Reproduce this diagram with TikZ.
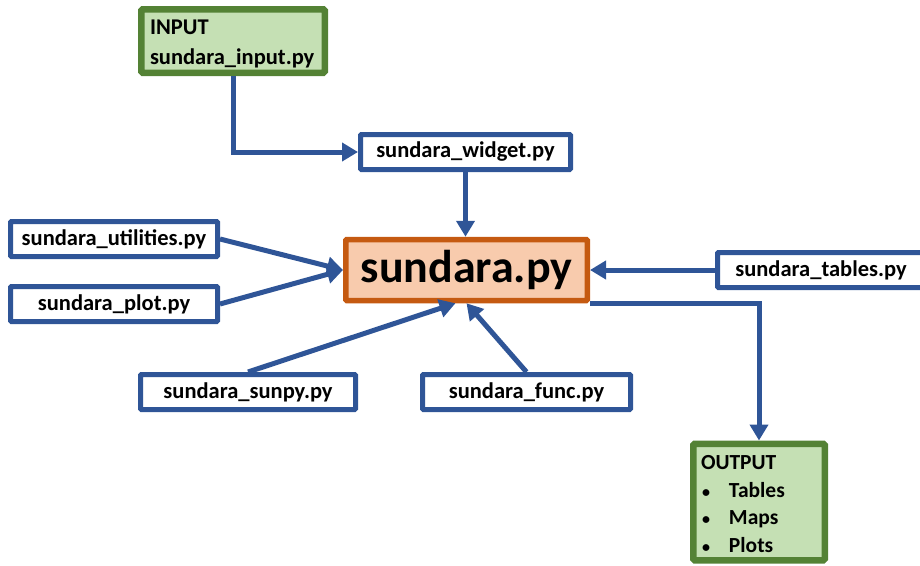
\documentclass[tikz,border=0pt]{standalone}
\usepackage{fontspec}
\setmainfont{Carlito}
\usetikzlibrary{arrows.meta,positioning}
\definecolor{linkblue}{HTML}{2F5597}
\definecolor{iofill}{HTML}{C5E0B4}
\definecolor{ioedge}{HTML}{548235}
\definecolor{mainfill}{HTML}{F8CBAD}
\definecolor{mainedge}{HTML}{C55A11}
\newcommand{\outbullet}{\hspace*{1pt}{\fontsize{16}{16}\selectfont\textbullet}\hspace{19pt}}

\begin{document}
\begin{tikzpicture}[
      x=1pt, y=-1pt, % 1 unidade = 1 pixel da figura
      modbox/.style={rectangle, draw=linkblue, fill=white, line width=5pt,
        rounded corners=1pt, minimum width=#1, minimum height=35pt,
        inner sep=0pt, font=\fontsize{22.5}{26}\selectfont\bfseries},
      modbox/.default=210pt,
      iobox/.style={rectangle, draw=ioedge, fill=iofill, line width=6.5pt,
        rounded corners=1.5pt, align=left, inner ysep=4pt},
      mainbox/.style={rectangle, draw=mainedge, fill=mainfill, line width=5.5pt,
        rounded corners=1pt, minimum width=241.5pt, minimum height=61pt,
        inner sep=0pt, font=\fontsize{46}{50}\selectfont\bfseries},
      link/.style={draw=linkblue, line width=5pt,
        -{Triangle[length=16pt, width=18pt]}},
  ]
      \useasboundingbox (0,0) rectangle (920,565);

      % --- ENTRADA ---
      \node[iobox, minimum width=183.5pt, minimum height=63.5pt, text width=166pt,
        inner xsep=8.75pt, font=\fontsize{22.5}{30}\selectfont\bfseries]
        (input) at (233,41) {\rule{0pt}{21pt}INPUT\\sundara\_input.py};

      % --- MODULOS ---
      \node[modbox=210pt] (widget) at (465.5,152) {sundara\_widget.py};
      \node[mainbox] (main) at (466.5,270) {sundara.py};
      \node[modbox=207pt] (utils) at (114,239) {sundara\_utilities.py};
      \node[modbox=207pt] (plot) at (114,304) {sundara\_plot.py};
      \node[modbox=215pt] (sunpy) at (248,392) {sundara\_sunpy.py};
      \node[modbox=208pt] (func) at (526.5,392) {sundara\_func.py};
      \node[modbox=207pt] (tables) at (821,270) {sundara\_tables.py};

      % --- SAIDA ---
      \node[iobox, minimum width=131.5pt, minimum height=116.5pt, text width=116pt,
        inner xsep=7.75pt, font=\fontsize{21.5}{27.4}\selectfont\bfseries]
        (output) at (759,502)
        {\rule{0pt}{18pt}OUTPUT\\\outbullet Tables\\\outbullet Maps\\\outbullet Plots};

      % --- CONEXOES ---
      \draw[link] (input.south) |- (widget.west);
      \draw[link] (widget.south) -- (widget.south |- main.north);
      \draw[link] (utils.east) -- (main.west);
      \draw[link] (plot.east) -- (main.west);
      \draw[link] (sunpy.north) -- ([xshift=-11pt]main.south);
      \draw[link] (func.north) -- (main.south);
      \draw[link] (tables.west) -- (main.east);

      % saida: sai pelo canto inferior direito e desce ate OUTPUT
      \draw[link] (main.south east) -| (output.north);

  \end{tikzpicture}
\end{document}
